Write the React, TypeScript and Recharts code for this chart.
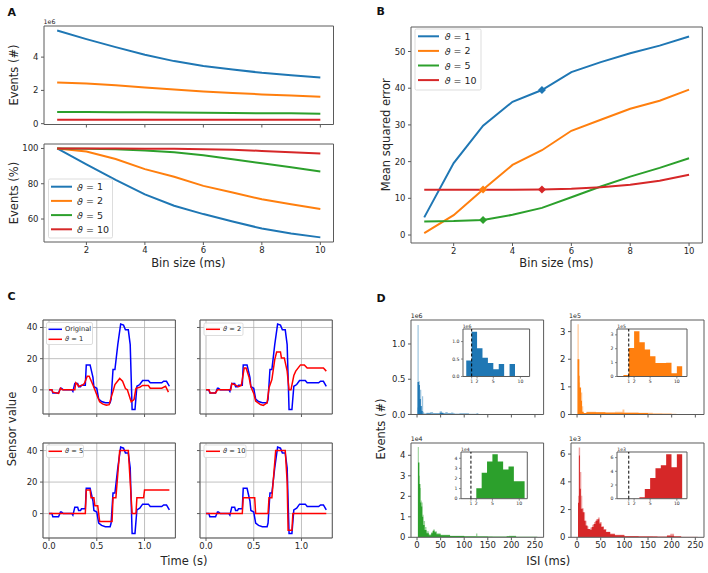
import React from "react";
import {
  LineChart,
  Line,
  ComposedChart,
  Area,
  XAxis,
  YAxis,
  CartesianGrid,
  ReferenceArea,
  ReferenceLine,
} from "recharts";

const FONT = "DejaVu Sans";
const SPINE = "#5a5a5a";
const TEXT = "#262626";
const PAD = 4;

// ---- shared series info
const binSizes = [1, 2, 3, 4, 5, 6, 7, 8, 9, 10];
const thetas = [1, 2, 5, 10];
const thetaColors = ["#1f77b4", "#ff7f0e", "#2ca02c", "#d62728"];

// ---- panel A (top): number of events, x1e6
const eventsTheta1 = [5.6, 5.08, 4.6, 4.14, 3.76, 3.46, 3.25, 3.06, 2.91, 2.78];
const eventsTheta2 = [2.48, 2.42, 2.31, 2.18, 2.06, 1.94, 1.85, 1.76, 1.69, 1.62];
const eventsTheta5 = [0.7, 0.7, 0.69, 0.68, 0.67, 0.66, 0.64, 0.63, 0.62, 0.6];
const eventsTheta10 = [0.24, 0.24, 0.24, 0.24, 0.24, 0.24, 0.24, 0.23, 0.23, 0.23];

// ---- panel A (bottom): events in %
const pctTheta1 = [100, 91, 82.2, 74, 67.5, 62.8, 58.6, 54.6, 51.8, 49.6];
const pctTheta2 = [100, 98.3, 94, 88.3, 84, 78.8, 75, 71.2, 68.4, 65.7];
const pctTheta5 = [100, 99.8, 99.5, 98.8, 97.8, 96.2, 93.9, 91.6, 89.4, 87];
const pctTheta10 = [100, 100, 100, 99.9, 99.8, 99.6, 99.3, 98.6, 97.9, 97.2];

// ---- panel B: mean squared error
const mseTheta1 = [4.8, 19.6, 29.8, 36.3, 39.5, 44.4, 47.1, 49.5, 51.6, 54.1];
const mseTheta2 = [0.5, 5.4, 12.4, 19.1, 23.1, 28.4, 31.4, 34.4, 36.6, 39.6];
const mseTheta5 = [3.7, 3.8, 4.1, 5.5, 7.4, 10.3, 13.2, 15.9, 18.3, 20.9];
const mseTheta10 = [12.3, 12.3, 12.3, 12.3, 12.4, 12.6, 13.0, 13.7, 14.8, 16.4];
const bestBin = [5, 3, 3, 5];

// ---- panel C: sensor traces [time s, value]
const originalSignal: [number, number][] = [
  [0, 0], [0.03, 0], [0.04, -2], [0.1, -2], [0.12, 1], [0.13, 1], [0.15, 0], [0.24, 0],
  [0.25, -1], [0.27, 4], [0.3, 4], [0.31, 2], [0.33, 2], [0.34, 3], [0.38, 3], [0.39, 16],
  [0.43, 16], [0.46, 8], [0.47, 2], [0.5, 1], [0.52, -6], [0.55, -7.5], [0.59, -8.3],
  [0.64, -8.3], [0.65, -6], [0.67, 13], [0.69, 13], [0.72, 29], [0.75, 42.2], [0.78, 41.5],
  [0.8, 38.5], [0.83, 38.5], [0.85, 29], [0.87, -12.6], [0.9, -12.6], [0.92, 2.3],
  [0.95, 3.4], [0.98, 6], [1.04, 6], [1.06, 4.5], [1.18, 4.5], [1.2, 5.5], [1.23, 5.5],
  [1.26, 2.3],
];
const reconTheta1: [number, number][] = [
  [0, 0], [0.03, 0], [0.04, -1.5], [0.1, -2.3], [0.12, 1], [0.14, 0], [0.27, 0], [0.28, 4.5],
  [0.3, 3.4], [0.31, 2.3], [0.35, 3], [0.37, 4], [0.4, 8.7], [0.42, 8.7], [0.45, 4.5],
  [0.48, 0], [0.5, -3.2], [0.53, -7.7], [0.56, -9], [0.6, -9.8], [0.63, -9.5], [0.65, -5],
  [0.67, -1], [0.69, 3.4], [0.74, 7.3], [0.77, 5.5], [0.8, 0.8], [0.82, 0], [0.86, -7.7],
  [0.89, -6.2], [0.91, 1], [0.95, 1.7], [0.98, 2.8], [1.04, 2.8], [1.06, 1], [1.18, 1],
  [1.22, 2.3], [1.25, -1.5],
];
const reconTheta2: [number, number][] = [
  [0, 0], [0.03, 0], [0.045, -2], [0.1, -2], [0.12, 0], [0.26, 0], [0.27, 4], [0.31, 3],
  [0.34, 2], [0.37, 2.8], [0.4, 14], [0.42, 14], [0.45, 8.3], [0.47, 2], [0.5, -2.3],
  [0.52, -7.2], [0.57, -9.4], [0.6, -10], [0.64, -8.3], [0.66, 1.3], [0.69, 6.6],
  [0.72, 19.4], [0.74, 24.3], [0.78, 24.3], [0.79, 20.5], [0.82, 20.5], [0.85, 12],
  [0.87, 0], [0.89, 0], [0.92, 9.2], [0.94, 12], [0.99, 16], [1.03, 16], [1.06, 14],
  [1.23, 14], [1.26, 12],
];
const reconTheta5: [number, number][] = [
  [0, 0], [0.38, 0], [0.39, 15], [0.43, 15], [0.44, 10], [0.47, 10], [0.48, 5], [0.51, 5],
  [0.53, -5], [0.66, -5], [0.67, 10], [0.7, 10], [0.72, 25], [0.74, 40], [0.83, 40],
  [0.85, 20], [0.87, 0], [0.91, 0], [0.92, 10], [0.99, 10], [1.0, 15], [1.26, 15],
];
const reconTheta10: [number, number][] = [
  [0, 0], [0.38, 0], [0.39, 10], [0.51, 10], [0.52, 0], [0.65, 0], [0.66, 10], [0.69, 10],
  [0.71, 25], [0.73, 40], [0.83, 40], [0.85, 20], [0.86, -10.6], [0.9, -10.6], [0.91, 0],
  [1.26, 0],
];

// ---- panel D: ISI histograms [bin start ms, count], light = raw, dark = solid
const isiLight1: [number, number][] = [
  [0, 0.1], [1, 1.27], [3.5, 0.47], [6, 0.35], [9, 0.06], [10.5, 0.26], [13, 0.04], [15, 0.01],
  [20, 0.025], [28, 0.035], [34, 0.02], [48, 0.045], [53, 0.02], [60, 0.035], [65, 0.02],
  [72, 0.03], [77, 0.015], [90, 0.022], [110, 0.012], [126, 0.02], [130, 0.006], [255, 0],
];
const isiDark1: [number, number][] = [
  [0, 0], [1, 0.46], [4, 0.42], [6, 0.22], [8, 0.12], [10, 0.05], [12, 0.01], [20, 0.015],
  [30, 0.01], [48, 0.025], [56, 0.012], [80, 0.006], [120, 0.003], [255, 0],
];
const isiLight2: [number, number][] = [
  [0, 0], [1, 3.27], [3.5, 2.0], [5, 1.16], [6.5, 0.9], [8, 0.8], [11, 0.3], [13, 0.05],
  [20, 0.1], [40, 0.07], [60, 0.08], [80, 0.1], [96, 0.18], [100, 0.08], [130, 0.06],
  [160, 0.04], [180, 0.03], [210, 0.02], [255, 0],
];
const isiDark2: [number, number][] = [
  [0, 0], [1, 2.0], [4.5, 1.4], [5.5, 0.98], [8.5, 0.5], [10.5, 0.1], [14, 0.05], [20, 0.08],
  [60, 0.06], [100, 0.05], [150, 0.03], [200, 0.02], [255, 0],
];
const isiLight5: [number, number][] = [
  [0, 0], [1.5, 4.4], [4, 3.0], [6, 2.4], [8, 1.8], [10, 1.7], [12, 1.1], [14, 0.8], [17, 0.5],
  [20, 0.3], [25, 0.15], [30, 0.25], [34, 0.38], [38, 0.3], [42, 0.2], [50, 0.12],
  [70, 0.08], [100, 0.06], [125, 0.18], [128, 0.05], [160, 0.04], [195, 0.07], [210, 0.04],
  [255, 0],
];
const isiDark5: [number, number][] = [
  [0, 0], [2, 3.65], [5, 2.6], [7, 1.7], [9, 1.5], [11, 1.0], [13, 0.6], [16, 0.35],
  [20, 0.2], [25, 0.1], [30, 0.2], [33, 0.32], [37, 0.25], [41, 0.15], [50, 0.1],
  [70, 0.06], [100, 0.04], [150, 0.03], [190, 0.05], [210, 0.02], [255, 0],
];
const isiLight10: [number, number][] = [
  [0, 0], [2, 3.0], [3.5, 6.48], [6.5, 4.7], [9, 3.0], [11, 2.1], [14, 1.8], [17, 1.2], [20, 0.8],
  [24, 0.6], [28, 0.7], [32, 0.9], [36, 1.1], [40, 1.3], [44, 1.43], [48, 1.1], [52, 0.8],
  [57, 0.6], [62, 0.4], [70, 0.28], [80, 0.18], [100, 0.1], [130, 0.07], [160, 0.05],
  [190, 0.15], [197, 0.25], [205, 0.1], [220, 0.04], [255, 0],
];
const isiDark10: [number, number][] = [
  [0, 0], [2, 2.5], [4, 5.9], [6, 3.5], [8, 2.05], [12, 1.8], [15, 1.2], [18, 0.85],
  [22, 0.6], [27, 0.55], [31, 0.75], [35, 0.95], [39, 1.2], [43, 1.3], [47, 1.0], [51, 0.75],
  [56, 0.55], [61, 0.38], [70, 0.22], [80, 0.14], [100, 0.08], [130, 0.05], [170, 0.04],
  [190, 0.12], [205, 0.06], [220, 0.02], [255, 0],
];

// insets: counts per 1 ms bin from 0 to 11 ms
const insetCounts1 = [0.46, 1.28, 0.81, 0.54, 0.39, 0.21, 0.36, 0, 0.36, 0, 0];
const insetCounts2 = [0.1, 2.05, 3.25, 2.47, 1.94, 1.45, 0.97, 0.97, 0.99, 0.24, 0.73];
const insetCounts5 = [0, 0, 1.04, 2.57, 3.67, 4.39, 3.67, 2.9, 3.19, 1.72, 1.72];
const insetCounts10 = [0, 0, 0, 0.2, 1.41, 3.02, 4.44, 4.88, 6.49, 4.59, 6.49];

type Box = { x0: number; x1: number; y0: number; y1: number };

function place(box: Box, yw: number, xh: number) {
  return {
    left: box.x0 - yw,
    top: box.y0 - PAD,
    width: yw + (box.x1 - box.x0) + PAD,
    height: PAD + (box.y1 - box.y0) + xh,
  };
}

function mergeSeries(series: Record<string, [number, number][]>) {
  const rows = new Map<number, any>();
  for (const [key, pts] of Object.entries(series)) {
    for (const [x, v] of pts) {
      const row = rows.get(x) ?? { x };
      row[key] = v;
      rows.set(x, row);
    }
  }
  return [...rows.values()].sort((a, b) => a.x - b.x);
}

const tickStyle = (size: number) => ({ fontSize: size, fill: TEXT, fontFamily: FONT });
const blank = () => "";

function frame(xd: number[], yd: number[]) {
  return (
    <ReferenceArea
      x1={xd[0]}
      x2={xd[1]}
      y1={yd[0]}
      y2={yd[1]}
      fill="none"
      stroke={SPINE}
      strokeWidth={1}
      ifOverflow="visible"
    />
  );
}

// ---------- panel A / B
const binXDomain = [0.55, 10.45];

function ThetaLines({ box, rows, yDomain, yTicks, showX, yw, markers }: any) {
  const p = place(box, yw, showX ? 16 : 4);
  return (
    <div style={{ position: "absolute", left: p.left, top: p.top }}>
      <LineChart width={p.width} height={p.height} data={rows} margin={{ top: PAD, right: PAD, bottom: 0, left: 0 }}>
        <XAxis
          dataKey="bin"
          type="number"
          domain={binXDomain}
          allowDataOverflow
          ticks={[2, 4, 6, 8, 10]}
          interval={0}
          height={showX ? 16 : 4}
          axisLine={false}
          tickSize={3}
          tickMargin={2}
          tickLine={{ stroke: SPINE }}
          tick={tickStyle(8.5)}
          tickFormatter={showX ? undefined : blank}
        />
        <YAxis
          type="number"
          domain={yDomain}
          allowDataOverflow
          ticks={yTicks}
          interval={0}
          width={yw}
          axisLine={false}
          tickSize={3}
          tickMargin={2.5}
          tickLine={{ stroke: SPINE }}
          tick={tickStyle(8.5)}
        />
        {thetas.map((t, k) => (
          <Line
            key={t}
            dataKey={`s${k}`}
            stroke={thetaColors[k]}
            strokeWidth={2}
            isAnimationActive={false}
            activeDot={false}
            dot={
              markers
                ? (props: any) => {
                    const { cx, cy, payload, index } = props;
                    if (payload.bin !== bestBin[k]) return <g key={`d${k}-${index}`} />;
                    const r = 4;
                    return (
                      <path
                        key={`d${k}-${index}`}
                        d={`M${cx},${cy - r}L${cx + r},${cy}L${cx},${cy + r}L${cx - r},${cy}Z`}
                        fill={thetaColors[k]}
                      />
                    );
                  }
                : false
            }
          />
        ))}
        {frame(binXDomain, yDomain)}
      </LineChart>
    </div>
  );
}

function rowsFrom(series: number[][]) {
  return binSizes.map((b, i) => {
    const row: any = { bin: b };
    series.forEach((s, k) => (row[`s${k}`] = s[i]));
    return row;
  });
}

// ---------- panel C
const timeDomain = [-0.063, 1.323];
const sensorDomain = [-15.5, 44.8];

function SignalPanel({ box, recon, showX, showY }: any) {
  const data = mergeSeries({ orig: originalSignal, recon });
  const p = place(box, 26, 16);
  return (
    <div style={{ position: "absolute", left: p.left, top: p.top }}>
      <LineChart width={p.width} height={p.height} data={data} margin={{ top: PAD, right: PAD, bottom: 0, left: 0 }}>
        <CartesianGrid stroke="#b0b0b0" strokeWidth={0.8} />
        <XAxis
          dataKey="x"
          type="number"
          domain={timeDomain}
          allowDataOverflow
          ticks={[0, 0.5, 1.0]}
          interval={0}
          height={16}
          axisLine={false}
          tickSize={3}
          tickMargin={2}
          tickLine={{ stroke: SPINE }}
          tick={tickStyle(8.5)}
          tickFormatter={showX ? (v: number) => v.toFixed(1) : blank}
        />
        <YAxis
          type="number"
          domain={sensorDomain}
          allowDataOverflow
          ticks={[0, 20, 40]}
          interval={0}
          width={26}
          axisLine={false}
          tickSize={3}
          tickMargin={2.5}
          tickLine={{ stroke: SPINE }}
          tick={tickStyle(8.5)}
          tickFormatter={showY ? undefined : blank}
        />
        <Line dataKey="orig" stroke="#0000ff" strokeWidth={1.5} dot={false} activeDot={false} connectNulls isAnimationActive={false} />
        <Line dataKey="recon" stroke="#ff0000" strokeWidth={1.5} dot={false} activeDot={false} connectNulls isAnimationActive={false} />
        {frame(timeDomain, sensorDomain)}
      </LineChart>
    </div>
  );
}

// ---------- panel D
const isiDomain = [-12.8, 268.3];

function HistPanel({ box, light, dark, color, yDomain, yTicks, yFmt, showX }: any) {
  const data = mergeSeries({ light, dark });
  const p = place(box, 28, 16);
  return (
    <div style={{ position: "absolute", left: p.left, top: p.top }}>
      <ComposedChart width={p.width} height={p.height} data={data} margin={{ top: PAD, right: PAD, bottom: 0, left: 0 }}>
        <XAxis
          dataKey="x"
          type="number"
          domain={isiDomain}
          allowDataOverflow
          ticks={[0, 50, 100, 150, 200, 250]}
          interval={0}
          height={16}
          axisLine={false}
          tickSize={3}
          tickMargin={2}
          tickLine={{ stroke: SPINE }}
          tick={tickStyle(8.5)}
          tickFormatter={showX ? undefined : blank}
        />
        <YAxis
          type="number"
          domain={yDomain}
          allowDataOverflow
          ticks={yTicks}
          interval={0}
          width={28}
          axisLine={false}
          tickSize={3}
          tickMargin={2.5}
          tickLine={{ stroke: SPINE }}
          tick={tickStyle(8.5)}
          tickFormatter={yFmt}
        />
        <Area dataKey="light" type="stepAfter" stroke="none" fill={color} fillOpacity={0.45} connectNulls isAnimationActive={false} activeDot={false} />
        <Area dataKey="dark" type="stepAfter" stroke="none" fill={color} fillOpacity={1} connectNulls isAnimationActive={false} activeDot={false} />
        {frame(isiDomain, yDomain)}
      </ComposedChart>
    </div>
  );
}

function InsetHist({ box, counts, color, xDomain, yDomain, yTicks, yFmt }: any) {
  const data = [...counts.map((c: number, i: number) => ({ x: i, v: c })), { x: counts.length, v: 0 }];
  const p = place(box, 12, 9);
  return (
    <>
      <div
        style={{
          position: "absolute",
          left: box.x0,
          top: box.y0,
          width: box.x1 - box.x0,
          height: box.y1 - box.y0,
          background: "#fff",
        }}
      />
      <div style={{ position: "absolute", left: p.left, top: p.top }}>
        <ComposedChart width={p.width} height={p.height} data={data} margin={{ top: PAD, right: PAD, bottom: 0, left: 0 }}>
          <XAxis
            dataKey="x"
            type="number"
            domain={xDomain}
            allowDataOverflow
            ticks={[1, 2, 5, 10]}
            interval={0}
            height={9}
            axisLine={false}
            tickSize={2}
            tickMargin={1}
            tickLine={{ stroke: SPINE, strokeWidth: 0.7 }}
            tick={tickStyle(4.6)}
          />
          <YAxis
            type="number"
            domain={yDomain}
            allowDataOverflow
            ticks={yTicks}
            interval={0}
            width={12}
            axisLine={false}
            tickSize={2}
            tickMargin={1.5}
            tickLine={{ stroke: SPINE, strokeWidth: 0.7 }}
            tick={tickStyle(4.6)}
            tickFormatter={yFmt}
          />
          <Area dataKey="v" type="stepAfter" stroke="none" fill={color} fillOpacity={1} isAnimationActive={false} activeDot={false} />
          <ReferenceLine x={1} stroke="#000" strokeWidth={1} strokeDasharray="3 2" />
          {frame(xDomain, yDomain)}
        </ComposedChart>
      </div>
    </>
  );
}

// ---------- overlay (legends, labels)
function ThetaText({ value }: { value: number | string }) {
  return (
    <>
      <tspan fontStyle="italic">ϑ</tspan>
      {` = ${value}`}
    </>
  );
}

function LegendBox({ x, y, w, h, items, lx0, lx1, tx, ry0, step, fs, lw }: any) {
  return (
    <g>
      <rect x={x} y={y} width={w} height={h} rx={1.5} fill="#fff" fillOpacity={0.85} stroke="#d4d4d4" strokeWidth={0.8} />
      {items.map((it: any, i: number) => (
        <g key={i}>
          <line x1={lx0} x2={lx1} y1={ry0 + i * step} y2={ry0 + i * step} stroke={it.color} strokeWidth={lw} />
          <text x={tx} y={ry0 + i * step} fontSize={fs} fill={TEXT} dominantBaseline="central" fontFamily={FONT}>
            {it.label}
          </text>
        </g>
      ))}
    </g>
  );
}

const thetaItems = thetas.map((t, k) => ({ color: thetaColors[k], label: <ThetaText value={t} /> }));

function Overlay() {
  const label = { fontSize: 11.5, fill: TEXT, fontFamily: FONT, textAnchor: "middle" as const };
  const small = { fontSize: 6.3, fill: TEXT, fontFamily: FONT };
  const tiny = { fontSize: 4.6, fill: TEXT, fontFamily: FONT };
  const letter = { fontSize: 11, fontWeight: 700, fill: "#111", fontFamily: FONT };
  return (
    <svg width={708} height={573} style={{ position: "absolute", left: 0, top: 0, pointerEvents: "none" }}>
      <text x={7.5} y={15.5} {...letter}>A</text>
      <text x={376.5} y={14.5} {...letter}>B</text>
      <text x={7.5} y={300} {...letter}>C</text>
      <text x={376.5} y={302} {...letter}>D</text>

      <text {...label} transform="translate(13.5,75) rotate(-90)" dominantBaseline="central">Events (#)</text>
      <text {...label} transform="translate(13.5,193) rotate(-90)" dominantBaseline="central">Events (%)</text>
      <text {...label} x={188.3} y={267}>Bin size (ms)</text>
      <text {...label} transform="translate(386,134.7) rotate(-90)" dominantBaseline="central">Mean squared error</text>
      <text {...label} x={556.4} y={267}>Bin size (ms)</text>
      <text {...label} transform="translate(12,429) rotate(-90)" dominantBaseline="central">Sensor value</text>
      <text {...label} x={184} y={565}>Time (s)</text>
      <text {...label} transform="translate(380.5,429) rotate(-90)" dominantBaseline="central">Events (#)</text>
      <text {...label} x={548.3} y={565}>ISI (ms)</text>

      <text {...small} x={43.5} y={24}>1e6</text>
      <text {...small} x={410.7} y={318}>1e6</text>
      <text {...small} x={569} y={318}>1e5</text>
      <text {...small} x={410.7} y={440.5}>1e4</text>
      <text {...small} x={569} y={440.5}>1e3</text>
      <text {...tiny} x={462.7} y={327.5}>1e6</text>
      <text {...tiny} x={617.3} y={327.5}>1e5</text>
      <text {...tiny} x={461} y={450.5}>1e4</text>
      <text {...tiny} x={617.3} y={450.5}>1e3</text>

      <LegendBox x={48.5} y={179} w={64} h={59} items={thetaItems} lx0={51} lx1={72} tx={77} ry0={186.7} step={14.2} fs={9.5} lw={2} />
      <LegendBox x={415} y={29} w={66} h={61} items={thetaItems} lx0={418} lx1={439} tx={444.7} ry0={36.3} step={14.6} fs={9.5} lw={2} />

      <LegendBox x={46.5} y={322.5} w={46} h={22} lx0={48.5} lx1={62} tx={65} ry0={329.3} step={10} fs={6.7} lw={1.5}
        items={[{ color: "#0000ff", label: "Original" }, { color: "#ff0000", label: <ThetaText value={1} /> }]} />
      <LegendBox x={204} y={323} w={39} h={12.5} lx0={206} lx1={220} tx={223} ry0={329.3} step={10} fs={6.7} lw={1.5}
        items={[{ color: "#ff0000", label: <ThetaText value={2} /> }]} />
      <LegendBox x={46.5} y={445} w={37} h={12.5} lx0={48.5} lx1={62} tx={65} ry0={451.3} step={10} fs={6.7} lw={1.5}
        items={[{ color: "#ff0000", label: <ThetaText value={5} /> }]} />
      <LegendBox x={204} y={445} w={42} h={12.5} lx0={206} lx1={220} tx={223} ry0={451.3} step={10} fs={6.7} lw={1.5}
        items={[{ color: "#ff0000", label: <ThetaText value={10} /> }]} />
    </svg>
  );
}

export default function App() {
  const countRows = rowsFrom([eventsTheta1, eventsTheta2, eventsTheta5, eventsTheta10]);
  const pctRows = rowsFrom([pctTheta1, pctTheta2, pctTheta5, pctTheta10]);
  const mseRows = rowsFrom([mseTheta1, mseTheta2, mseTheta5, mseTheta10]);
  const fmt1 = (v: number) => v.toFixed(1);

  return (
    <div style={{ position: "absolute", left: 0, top: 0, width: 708, height: 573, background: "#fff", fontFamily: FONT, overflow: "hidden" }}>
      <ThetaLines box={{ x0: 43.5, x1: 333, y0: 26, y1: 124.5 }} rows={countRows} yDomain={[-0.05, 5.87]} yTicks={[0, 2, 4]} showX={false} yw={36} />
      <ThetaLines box={{ x0: 43.5, x1: 333, y0: 144, y1: 242 }} rows={pctRows} yDomain={[46.98, 102.53]} yTicks={[60, 80, 100]} showX yw={36} />
      <ThetaLines box={{ x0: 410.7, x1: 702, y0: 26.7, y1: 242.7 }} rows={mseRows} yDomain={[-2.175, 56.675]} yTicks={[0, 10, 20, 30, 40, 50]} showX yw={30} markers />

      <SignalPanel box={{ x0: 43.3, x1: 175.7, y0: 320, y1: 414 }} recon={reconTheta1} showX={false} showY />
      <SignalPanel box={{ x0: 200, x1: 332.3, y0: 320, y1: 414 }} recon={reconTheta2} showX={false} showY={false} />
      <SignalPanel box={{ x0: 43.3, x1: 175.7, y0: 442.5, y1: 537.5 }} recon={reconTheta5} showX showY />
      <SignalPanel box={{ x0: 200, x1: 332.3, y0: 442.5, y1: 537.5 }} recon={reconTheta10} showX showY={false} />

      <HistPanel box={{ x0: 410.7, x1: 543.3, y0: 320, y1: 414.5 }} light={isiLight1} dark={isiDark1} color={thetaColors[0]} yDomain={[0, 1.34]} yTicks={[0, 0.5, 1.0]} yFmt={fmt1} showX={false} />
      <HistPanel box={{ x0: 571, x1: 704, y0: 320, y1: 414.5 }} light={isiLight2} dark={isiDark2} color={thetaColors[1]} yDomain={[0, 3.42]} yTicks={[0, 1, 2, 3]} showX={false} />
      <HistPanel box={{ x0: 410.7, x1: 543.3, y0: 442.7, y1: 537 }} light={isiLight5} dark={isiDark5} color={thetaColors[2]} yDomain={[0, 4.6]} yTicks={[0, 1, 2, 3, 4]} showX />
      <HistPanel box={{ x0: 571, x1: 704, y0: 442.7, y1: 537 }} light={isiLight10} dark={isiDark10} color={thetaColors[3]} yDomain={[0, 6.8]} yTicks={[0, 2, 4, 6]} showX />

      <InsetHist box={{ x0: 462.7, x1: 529.3, y0: 329, y1: 376.5 }} counts={insetCounts1} color={thetaColors[0]} xDomain={[-0.6, 11.7]} yDomain={[0, 1.36]} yTicks={[0, 0.5, 1.0]} yFmt={fmt1} />
      <InsetHist box={{ x0: 617.3, x1: 687.3, y0: 329, y1: 376.5 }} counts={insetCounts2} color={thetaColors[1]} xDomain={[-1.2, 11.9]} yDomain={[0, 3.42]} yTicks={[0, 1, 2, 3]} />
      <InsetHist box={{ x0: 461, x1: 527.3, y0: 452, y1: 498.7 }} counts={insetCounts5} color={thetaColors[2]} xDomain={[-0.85, 11.5]} yDomain={[0, 4.62]} yTicks={[0, 1, 2, 3, 4]} />
      <InsetHist box={{ x0: 617.3, x1: 687.3, y0: 452, y1: 498.7 }} counts={insetCounts10} color={thetaColors[3]} xDomain={[-1.2, 11.9]} yDomain={[0, 6.82]} yTicks={[0, 2, 4, 6]} />

      <Overlay />
    </div>
  );
}
